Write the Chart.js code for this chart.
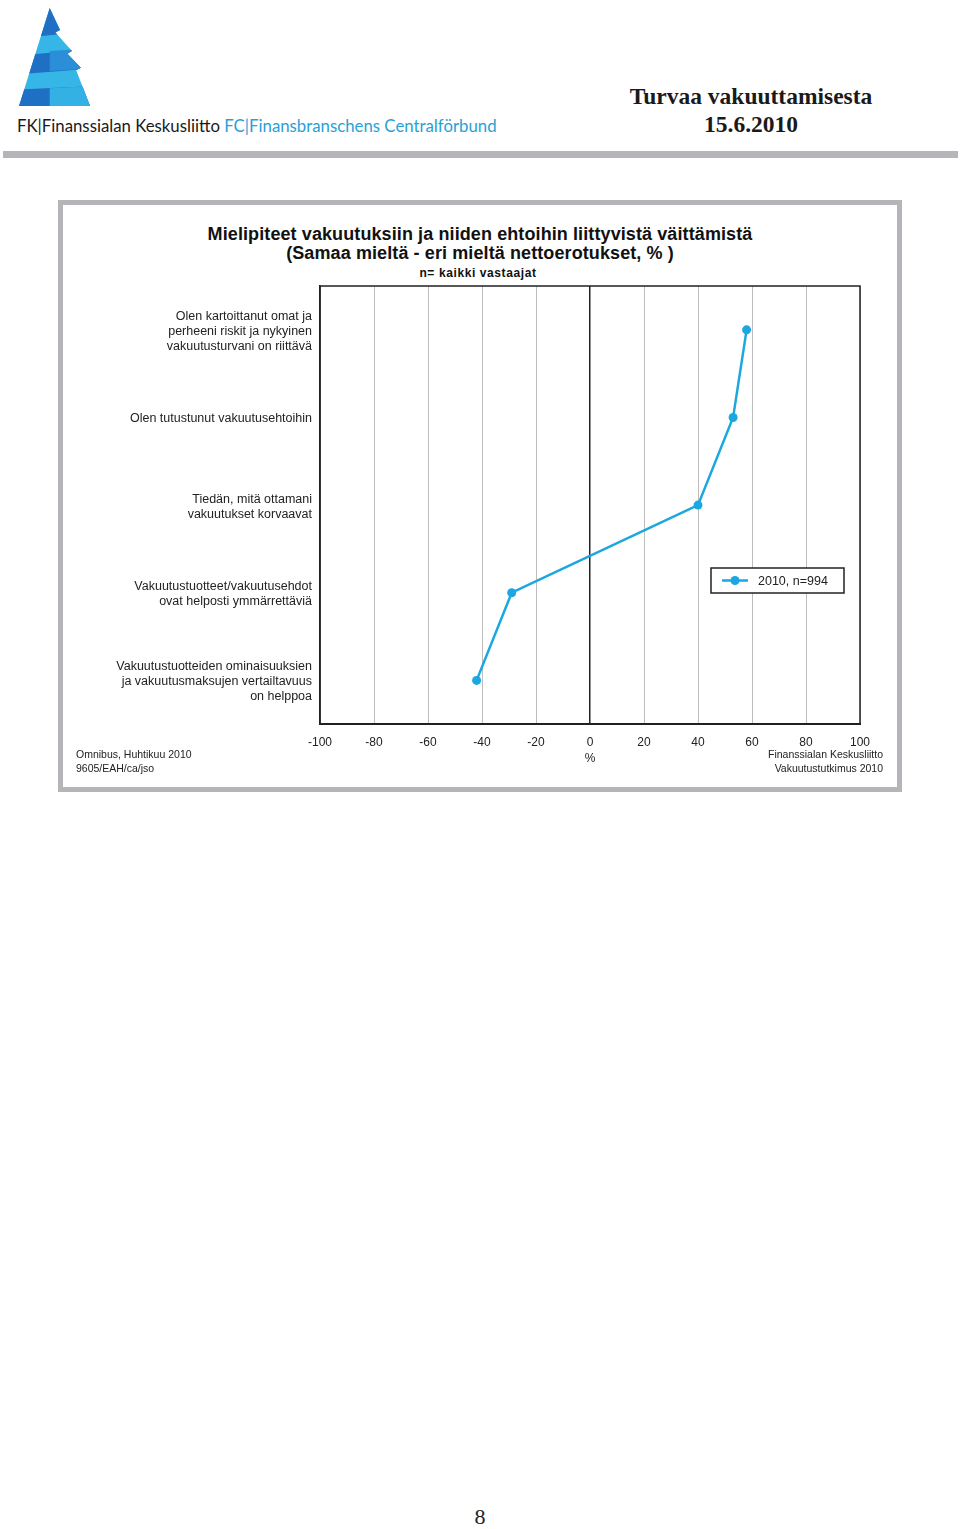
<!DOCTYPE html>
<html>
<head>
<meta charset="utf-8">
<script src="https://cdn.jsdelivr.net/npm/chart.js@4"></script>
<style>
  body { margin: 0; background: #fff; }
  #page { position: relative; width: 960px; height: 1529px; overflow: hidden; font-family: "Liberation Sans", Arial, sans-serif; color: #222; }
  .abs { position: absolute; }
  #bar { left: 3px; top: 151px; width: 955px; height: 7px; background: #b5b5b9; }
  #brand { left: 17px; top: 115px; font-family: Lato, "Open Sans", sans-serif; font-size: 16.8px; color: #1a1a1a; white-space: nowrap; }
  #brand span { color: #2a9fd6; }
  #head { left: 600px; top: 82px; width: 302px; text-align: center; font-family: "Liberation Serif", serif; font-weight: bold; font-size: 23.5px; line-height: 28px; color: #1a1a1a; }
  #frame { left: 58px; top: 200px; width: 844px; height: 592px; border: 5px solid #b5b5b9; box-sizing: border-box; }
  #title { left: 63px; top: 225px; width: 834px; text-align: center; font-family: "Liberation Sans Narrow", "Liberation Sans", sans-serif; font-weight: bold; font-size: 18px; line-height: 19px; letter-spacing: 0.1px; color: #111; }
  #sub { left: 63px; top: 266px; width: 830px; text-align: center; font-family: "Liberation Sans Narrow", "Liberation Sans", sans-serif; font-weight: bold; font-size: 12px; letter-spacing: 0.6px; color: #111; }
  .foot { font-family: "Liberation Sans Narrow", "Liberation Sans", sans-serif; font-size: 10.5px; line-height: 14px; color: #222; }
  #footL { left: 76px; top: 747px; }
  #footR { right: 77px; top: 747px; text-align: right; }
  #pageno { left: 440px; top: 1504px; width: 80px; text-align: center; font-family: "Liberation Serif", serif; font-size: 22px; color: #222; }
  #chartBox { left: 63px; top: 280px; width: 834px; height: 500px; }
</style>
</head>
<body>
<div id="page">
  <svg class="abs" style="left:19px;top:8px" width="71" height="98" viewBox="55 25 185 280" preserveAspectRatio="none">
    <defs>
      <clipPath id="logoClip">
        <polygon points="135,25 162,88 150,95 193,148 181,156 216,196 204,203 240,305 55,305"/>
      </clipPath>
    </defs>
    <g clip-path="url(#logoClip)">
      <rect x="50" y="20" width="200" height="290" fill="#35b6e6"/>
      <polygon points="50,20 250,20 250,90 50,112" fill="#1f6fc4"/>
      <polygon points="50,162 250,140 250,198 50,215" fill="#1f6fc4"/>
      <polygon points="135,148 250,140 250,198 135,205" fill="#2a8fd8"/>
      <polygon points="50,258 250,248 250,310 50,310" fill="#1f6fc4"/>
      <polygon points="135,254 250,248 250,310 135,310" fill="#33b0e4"/>
    </g>
  </svg>
  <div id="brand" class="abs">FK|Finanssialan Keskusliitto <span>FC|Finansbranschens Centralförbund</span></div>
  <div id="head" class="abs">Turvaa vakuuttamisesta<br>15.6.2010</div>
  <div id="bar" class="abs"></div>

  <div id="frame" class="abs"></div>
  <div id="title" class="abs">Mielipiteet vakuutuksiin ja niiden ehtoihin liittyvistä väittämistä<br>(Samaa mieltä - eri mieltä nettoerotukset, % )</div>
  <div id="sub" class="abs">n= kaikki vastaajat</div>
  <div id="chartBox" class="abs"><canvas id="lineChart" width="834" height="500"></canvas></div>
  <div id="footL" class="abs foot">Omnibus, Huhtikuu 2010<br>9605/EAH/ca/jso</div>
  <div id="footR" class="abs foot">Finanssialan Keskusliitto<br>Vakuutustutkimus 2010</div>

  <div id="pageno" class="abs">8</div>
</div>

<script>
var statements = [
  ['Olen kartoittanut omat ja', 'perheeni riskit ja nykyinen', 'vakuutusturvani on riittävä'],
  'Olen tutustunut vakuutusehtoihin',
  ['Tiedän, mitä ottamani', 'vakuutukset korvaavat'],
  ['Vakuutustuotteet/vakuutusehdot', 'ovat helposti ymmärrettäviä'],
  ['Vakuutustuotteiden ominaisuuksien', 'ja vakuutusmaksujen vertailtavuus', 'on helppoa']
];
var netValues2010 = [58, 53, 40, -29, -42];
var seriesLabel = '2010, n=994';
var xTickValues = [-100, -80, -60, -40, -20, 0, 20, 40, 60, 80, 100];

var lineColor = '#1ba7e0';

// frame round the plot area (top and right edges too)
var frameBox = {
  id: 'frameBox',
  beforeDatasetsDraw: function(chart) {
    var a = chart.chartArea, c = chart.ctx;
    c.save();
    c.strokeStyle = '#222';
    c.lineWidth = 1.5;
    c.strokeRect(a.left, a.top, a.right - a.left, a.bottom - a.top);
    c.restore();
  }
};

// legend box sits inside the plot
var boxLegend = {
  id: 'boxLegend',
  afterDraw: function(chart) {
    var a = chart.chartArea, c = chart.ctx;
    var ds = chart.data.datasets[0];
    var x = a.left + 391, y = a.top + 282, w = 133, h = 25;
    c.save();
    c.fillStyle = '#fff';
    c.fillRect(x, y, w, h);
    c.strokeStyle = '#222';
    c.lineWidth = 1.5;
    c.strokeRect(x, y, w, h);
    c.strokeStyle = ds.borderColor;
    c.lineWidth = 2.5;
    c.beginPath();
    c.moveTo(x + 11, y + h / 2);
    c.lineTo(x + 37, y + h / 2);
    c.stroke();
    c.fillStyle = ds.backgroundColor;
    c.beginPath();
    c.arc(x + 24, y + h / 2, 4.5, 0, Math.PI * 2);
    c.fill();
    c.fillStyle = '#222';
    c.font = '12.5px "Liberation Sans", Arial, sans-serif';
    c.textBaseline = 'middle';
    c.fillText(ds.label, x + 47, y + h / 2 + 1);
    c.restore();
  }
};

var lineChart = new Chart(document.getElementById('lineChart'), {
  type: 'line',
  data: {
    labels: statements,
    datasets: [{
      label: seriesLabel,
      data: netValues2010,
      borderColor: lineColor,
      backgroundColor: lineColor,
      borderWidth: 2.5,
      pointRadius: 4.5,
      pointBorderWidth: 0,
      pointHoverRadius: 4.5,
      tension: 0
    }]
  },
  options: {
    responsive: false,
    animation: false,
    indexAxis: 'y',
    layout: { padding: { top: 6, right: 37, bottom: 14, left: 0 } },
    plugins: { legend: { display: false }, tooltip: { enabled: false } },
    scales: {
      y: {
        type: 'category',
        offset: true,
        grid: { display: false, drawTicks: false },
        border: { display: true, color: '#222', width: 1.5 },
        ticks: {
          color: '#222',
          padding: 8,
          labelOffset: 1.5,
          crossAlign: 'near',
          font: { family: '"Liberation Sans", Arial, sans-serif', size: 12.5, lineHeight: 1.2 }
        },
        afterFit: function(s) {
          s.width = 257;
          s.paddingTop = 0;
          s.paddingBottom = 0;
        }
      },
      x: {
        type: 'linear',
        min: -100,
        max: 100,
        afterBuildTicks: function(s) {
          s.ticks = xTickValues.map(function(v) { return { value: v }; });
        },
        grid: {
          drawTicks: false,
          color: function(ctx) { return ctx.tick && ctx.tick.value === 0 ? '#222' : '#bdbdbd'; },
          lineWidth: function(ctx) { return ctx.tick && ctx.tick.value === 0 ? 1.5 : 1; }
        },
        border: { color: '#222', width: 2 },
        ticks: {
          color: '#222',
          padding: 11,
          font: { family: '"Liberation Sans", Arial, sans-serif', size: 12 }
        },
        title: {
          display: true,
          text: '%',
          color: '#222',
          padding: { top: -9, bottom: 0 },
          font: { family: '"Liberation Sans", Arial, sans-serif', size: 12 }
        }
      }
    }
  },
  plugins: [frameBox, boxLegend]
});
</script>
</body>
</html>
